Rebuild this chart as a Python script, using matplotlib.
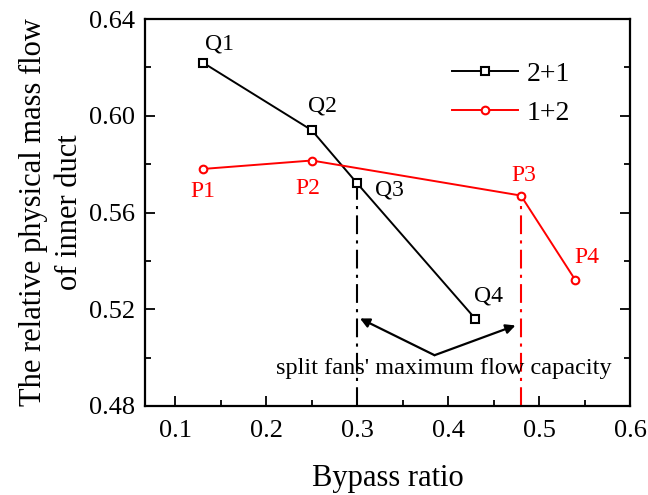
# inner duct mass flow vs bypass ratio, 2+1 and 1+2 fan layouts
import matplotlib
matplotlib.use('Agg')
import matplotlib.pyplot as plt

plt.rcParams['font.family'] = 'Liberation Serif'

# DATA
bpr_21 = [0.13, 0.25, 0.30, 0.43]
flow_21 = [0.622, 0.594, 0.572, 0.516]
names_21 = ['Q1', 'Q2', 'Q3', 'Q4']

bpr_12 = [0.13, 0.25, 0.48, 0.54]
flow_12 = [0.578, 0.5815, 0.567, 0.532]
names_12 = ['P1', 'P2', 'P3', 'P4']

# label offsets in pixels (dx, dy)
offs_21 = [(17, 19), (11, 24), (32, -7), (13, 23)]
offs_12 = [(0, -23), (-4, -28), (3, 20), (11, 23)]

fig = plt.figure(figsize=(6.48, 4.95), dpi=100)
ax = fig.add_axes([0.2238, 0.1798, 0.9722 - 0.2238, 0.9616 - 0.1798])

ax.plot(bpr_21, flow_21, color='black', lw=1.4, marker='s', ms=5.5, mew=1.5,
        mfc='white', mec='black', label='2+1', zorder=3)
ax.plot(bpr_12, flow_12, color='red', lw=1.4, marker='o', ms=5.5, mew=1.5,
        mfc='white', mec='red', label='1+2', zorder=3)

for x, y, s, o in zip(bpr_21, flow_21, names_21, offs_21):
    ax.annotate(s, (x, y), xytext=o, textcoords='offset pixels',
                ha='center', va='center', fontsize=17, color='black')
for x, y, s, o in zip(bpr_12, flow_12, names_12, offs_12):
    ax.annotate(s, (x, y), xytext=o, textcoords='offset pixels',
                ha='center', va='center', fontsize=17, color='red')

# maximum flow capacity limits
dash = (0, (9, 3, 1.5, 3))
ax.plot([bpr_21[2], bpr_21[2]], [0.48, flow_21[2]], color='black', lw=1.5, ls=dash, zorder=2)
ax.plot([bpr_12[2], bpr_12[2]], [0.48, flow_12[2]], color='red', lw=1.5, ls=dash, zorder=2)

ax.annotate('', xy=(0.303, 0.5162), xytext=(0.385, 0.501),
            arrowprops=dict(arrowstyle='-|>', color='black', lw=1.6, mutation_scale=14,
                            shrinkA=0, shrinkB=0))
ax.annotate('', xy=(0.474, 0.5133), xytext=(0.385, 0.501),
            arrowprops=dict(arrowstyle='-|>', color='black', lw=1.6, mutation_scale=14,
                            shrinkA=0, shrinkB=0))
ax.text(0.395, 0.4955, "split fans' maximum flow capacity", ha='center', va='center',
        fontsize=17.5)

ax.set_xlim(0.0665, 0.6)
ax.set_ylim(0.48, 0.64)
ax.set_xticks([0.1, 0.2, 0.3, 0.4, 0.5, 0.6])
ax.set_xticks([0.15, 0.25, 0.35, 0.45, 0.55], minor=True)
ax.set_yticks([0.48, 0.52, 0.56, 0.60, 0.64])
ax.set_yticks([0.50, 0.54, 0.58, 0.62], minor=True)
ax.set_yticklabels(['0.48', '0.52', '0.56', '0.60', '0.64'])
ax.set_xticklabels(['0.1', '0.2', '0.3', '0.4', '0.5', '0.6'])

ax.tick_params(which='both', direction='in', top=False, right=True, width=1.3, labelsize=19)
ax.tick_params(axis='y', pad=7)
ax.tick_params(axis='x', pad=10)
ax.tick_params(which='major', length=7)
ax.tick_params(which='minor', length=4)
for sp in ax.spines.values():
    sp.set_linewidth(1.6)

ax.set_xlabel('Bypass ratio', fontsize=22, labelpad=16)
ax.set_ylabel('The relative physical mass flow\nof inner duct', fontsize=22, linespacing=1.3, labelpad=4)

ax.legend(loc='upper left', bbox_to_anchor=(0.632, 0.89), frameon=False, fontsize=20,
          handlelength=2.4, handletextpad=0.3, labelspacing=0.48, borderpad=0, borderaxespad=0)

plt.savefig('out.png', dpi=100)
